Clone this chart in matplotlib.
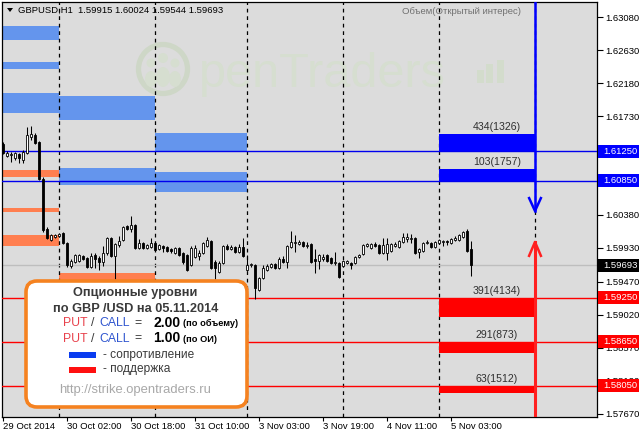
import matplotlib
matplotlib.use('Agg')
import matplotlib.pyplot as plt
from matplotlib.patches import Rectangle, FancyBboxPatch, Circle, Ellipse, Polygon
import matplotlib.transforms as mtransforms

plt.rcParams['font.family'] = ['Liberation Sans', 'DejaVu Sans']

# ---------------- data ----------------
bar_index = list(range(-14, 104))   # hourly bars, 0 = 30 Oct 00:00

opens = [
    1.6135, 1.6118, 1.6120, 1.6116, 1.6121, 1.6113, 1.6123, 1.6144, 1.6147, 1.6138,
    1.6087, 1.6019, 1.6004, 1.6008, 1.6009, 1.6013, 1.6000, 1.5968, 1.5974, 1.5975,
    1.5982, 1.5979, 1.5967, 1.5983, 1.5979, 1.5974, 1.5986, 1.6007, 1.5982, 1.5997,
    1.6004, 1.6023, 1.6019, 1.6024, 1.5993, 1.6000, 1.5993, 1.5994, 1.6000, 1.5992,
    1.5996, 1.5994, 1.5992, 1.5986, 1.5993, 1.5986, 1.5983, 1.5970, 1.5981, 1.5982,
    1.5986, 1.5996, 1.6003, 1.5974, 1.5960, 1.5973, 1.5996, 1.5992, 1.5994, 1.5988,
    1.5994, 1.5963, 1.5970, 1.5970, 1.5936, 1.5952, 1.5963, 1.5967, 1.5971, 1.5966,
    1.5978, 1.5974, 1.5994, 1.6000, 1.5998, 1.6001, 1.5996, 1.5998, 1.5978, 1.5975,
    1.5978, 1.5983, 1.5979, 1.5973, 1.5973, 1.5968, 1.5973, 1.5973, 1.5973, 1.5981,
    1.5985, 1.5996, 1.5993, 1.5998, 1.5997, 1.5986, 1.5986, 1.5989, 1.5996, 1.5994,
    1.6001, 1.6005, 1.6005, 1.6007, 1.5988, 1.5989, 1.6000, 1.6000, 1.5994, 1.6000,
    1.6001, 1.6003, 1.6000, 1.6004, 1.6004, 1.6008, 1.6016, 1.59915,
]
closes = [
    1.6123, 1.6123, 1.6121, 1.6123, 1.6116, 1.6124, 1.6147, 1.6148, 1.6136, 1.6087,
    1.6018, 1.6007, 1.6011, 1.6011, 1.6012, 1.6000, 1.5970, 1.5975, 1.5983, 1.5983,
    1.5978, 1.5967, 1.5982, 1.5978, 1.5974, 1.5986, 1.6007, 1.5982, 1.5998, 1.6003,
    1.6022, 1.6019, 1.6024, 1.5993, 1.6000, 1.5993, 1.5997, 1.6000, 1.5990, 1.5997,
    1.5993, 1.5989, 1.5989, 1.5993, 1.5983, 1.5974, 1.5963, 1.5993, 1.5993, 1.5986,
    1.6000, 1.6004, 1.5966, 1.5966, 1.5973, 1.5996, 1.5992, 1.5994, 1.5988, 1.5994,
    1.5982, 1.5970, 1.5971, 1.5939, 1.5952, 1.5966, 1.5968, 1.5971, 1.5966, 1.5978,
    1.5974, 1.5996, 1.6001, 1.6001, 1.6001, 1.5996, 1.5997, 1.5974, 1.5975, 1.5983,
    1.5981, 1.5975, 1.5973, 1.5974, 1.5953, 1.5975, 1.5975, 1.5970, 1.5981, 1.5983,
    1.5997, 1.5998, 1.5998, 1.5996, 1.5986, 1.5997, 1.5998, 1.5998, 1.5998, 1.6003,
    1.6008, 1.6008, 1.6007, 1.5986, 1.5992, 1.6000, 1.6001, 1.5994, 1.6001, 1.6004,
    1.6003, 1.6001, 1.6005, 1.6007, 1.6011, 1.6015, 1.5989, 1.59693,
]
highs = [
    1.6138, 1.6125, 1.6124, 1.6124, 1.6123, 1.6127, 1.6158, 1.6159, 1.6150, 1.6139,
    1.6090, 1.6022, 1.6012, 1.6012, 1.6013, 1.6015, 1.6001, 1.5978, 1.5985, 1.5985,
    1.5983, 1.5981, 1.5986, 1.5986, 1.5982, 1.5996, 1.6008, 1.6008, 1.6000, 1.6009,
    1.6023, 1.6024, 1.6037, 1.6026, 1.6005, 1.6001, 1.5998, 1.6007, 1.6001, 1.5998,
    1.5997, 1.5996, 1.5993, 1.5994, 1.5994, 1.5988, 1.5985, 1.5996, 1.5997, 1.5990,
    1.6001, 1.6008, 1.6004, 1.5977, 1.5975, 1.5997, 1.5998, 1.5997, 1.5996, 1.5998,
    1.6007, 1.5983, 1.5973, 1.5971, 1.5953, 1.5970, 1.5971, 1.5973, 1.5973, 1.5981,
    1.5982, 1.5997, 1.6016, 1.6011, 1.6004, 1.6003, 1.6001, 1.6000, 1.5992, 1.5985,
    1.5985, 1.5985, 1.5981, 1.5988, 1.5974, 1.5977, 1.5977, 1.5974, 1.5982, 1.5985,
    1.5998, 1.6000, 1.6000, 1.6001, 1.5998, 1.6007, 1.6007, 1.6000, 1.6001, 1.6004,
    1.6013, 1.6013, 1.6012, 1.6008, 1.5993, 1.6001, 1.6004, 1.6001, 1.6003, 1.6005,
    1.6004, 1.6004, 1.6007, 1.6009, 1.6012, 1.6016, 1.6019, 1.60024,
]
lows = [
    1.6121, 1.6117, 1.6110, 1.6113, 1.6109, 1.6109, 1.6121, 1.6140, 1.6135, 1.6086,
    1.6015, 1.6005, 1.6003, 1.6007, 1.6008, 1.5998, 1.5967, 1.5966, 1.5973, 1.5974,
    1.5977, 1.5966, 1.5966, 1.5966, 1.5963, 1.5968, 1.5983, 1.5981, 1.5951, 1.5994,
    1.6003, 1.6018, 1.6015, 1.5992, 1.5992, 1.5992, 1.5992, 1.5993, 1.5989, 1.5990,
    1.5988, 1.5988, 1.5986, 1.5985, 1.5982, 1.5971, 1.5962, 1.5968, 1.5979, 1.5977,
    1.5985, 1.5994, 1.5964, 1.5951, 1.5959, 1.5971, 1.5990, 1.5990, 1.5986, 1.5986,
    1.5981, 1.5962, 1.5967, 1.5924, 1.5934, 1.5951, 1.5962, 1.5966, 1.5964, 1.5964,
    1.5973, 1.5966, 1.5993, 1.5988, 1.5997, 1.5994, 1.5993, 1.5973, 1.5959, 1.5964,
    1.5975, 1.5974, 1.5971, 1.5970, 1.5952, 1.5967, 1.5971, 1.5964, 1.5971, 1.5979,
    1.5983, 1.5994, 1.5992, 1.5994, 1.5985, 1.5985, 1.5977, 1.5988, 1.5994, 1.5993,
    1.6000, 1.6001, 1.6000, 1.5985, 1.5979, 1.5988, 1.5998, 1.5993, 1.5993, 1.5998,
    1.5996, 1.5997, 1.5998, 1.6003, 1.6003, 1.6007, 1.5988, 1.59544,
]

day_starts = [0, 24, 47, 71, 95, 119]          # period separators (bar index)
tick_bars = [-14, 2, 18, 34, 50, 66, 82, 98]
tick_labels = ['29 Oct 2014', '30 Oct 02:00', '30 Oct 18:00', '31 Oct 10:00',
               '3 Nov 03:00', '3 Nov 19:00', '4 Nov 11:00', '5 Nov 03:00']

y_ticks = [1.63080, 1.62630, 1.62180, 1.61730, 1.60380,
           1.59930, 1.59470, 1.59020, 1.58570, 1.58120, 1.57670]

# historical option zones: (start bar, end bar, low, high)
old_resist_zones = [(-14.25, 0, 1.6277, 1.6296), (-14.25, 0, 1.6237, 1.6247),
                    (-14.25, 0, 1.6177, 1.6204), (0, 24, 1.6168, 1.6200),
                    (0, 24, 1.6079, 1.6102), (24, 47, 1.6124, 1.6150),
                    (24, 47, 1.6069, 1.6097)]
old_support_zones = [(-14.25, 0, 1.6090, 1.6099), (-14.25, 0, 1.6042, 1.6048),
                     (-14.25, 0, 1.5996, 1.6011), (0, 24, 1.5945, 1.5959)]

# current day levels
resist_levels = [1.6125, 1.6085]
resist_tops = [1.6149, 1.6101]
resist_labels = ['434(1326)', '103(1757)']
support_levels = [1.5925, 1.5865, 1.5805]
support_bottoms = [1.5899, 1.5850, 1.5795]
support_labels = ['391(4134)', '291(873)', '63(1512)']
zone_start, zone_end = 95, 119
current_price = 1.59693
arrow_down_tip, arrow_up_tip = 1.60435, 1.60012

# ---------------- figure ----------------
W, H = 639, 432
AX_L, AX_R, AX_T, AX_B = 2, 597, 2, 417
fig = plt.figure(figsize=(W / 100, H / 100), dpi=100)
fig.patch.set_facecolor('white')

# background layer (plot area colour + watermark)
bg = fig.add_axes([0, 0, 1, 1], zorder=0)
bg.set_xlim(0, W); bg.set_ylim(H, 0); bg.axis('off')
bg.add_patch(Rectangle((AX_L, AX_T), AX_R - AX_L, AX_B - AX_T,
                       facecolor='#DCDCDC', edgecolor='none'))
wm = '#d6ded0'
bg.add_patch(Circle((163, 69), 24.5, facecolor='none', edgecolor='#ced7c7', lw=3.8))
for cx, cy, r in [(151, 63, 4.5), (163, 58, 5.0), (175, 63, 4.5)]:
    bg.add_patch(Circle((cx, cy), r, facecolor=wm, edgecolor='none'))
for cx, cy, w_, h_ in [(151, 79, 12, 16), (163, 77, 14, 20), (175, 79, 12, 16)]:
    bg.add_patch(Ellipse((cx, cy), w_, h_, facecolor=wm, edgecolor='none'))
bg.text(199, 87, 'penTraders', fontsize=35, color=wm, ha='left', va='baseline')
for x0, y0 in [(477, 70), (486, 64), (497, 60)]:
    bg.add_patch(Rectangle((x0, y0), 7, 83 - y0, facecolor='#d3dccc', edgecolor='none'))

# main chart
ax = fig.add_axes([AX_L / W, 1 - AX_B / H, (AX_R - AX_L) / W, (AX_B - AX_T) / H], zorder=1)
ax.set_facecolor('none')
ax.set_xlim(-14.25, 134.5)
ax.set_ylim(1.57625, 1.63285)
px = (1.63285 - 1.57625) / (AX_B - AX_T)   # price per pixel

for x0, x1, lo, hi in old_resist_zones:
    ax.add_patch(Rectangle((x0, lo), x1 - x0, hi - lo, facecolor='#6495ED',
                           edgecolor='none', zorder=1))
for x0, x1, lo, hi in old_support_zones:
    ax.add_patch(Rectangle((x0, lo), x1 - x0, hi - lo, facecolor='#FF7F50',
                           edgecolor='none', zorder=1))

for d in day_starts:
    ax.axvline(d, color='black', lw=0.9, ls=(0, (3, 3)), zorder=2)

ax.axhline(current_price, color='#BEBEBE', lw=1, zorder=2)
for lv in resist_levels:
    ax.axhline(lv, color='#0000EE', lw=1, zorder=3)
for lv in support_levels:
    ax.axhline(lv, color='#FF0000', lw=1, zorder=3)

# current day zones
for lv, top, lab in zip(resist_levels, resist_tops, resist_labels):
    ax.add_patch(Rectangle((zone_start, lv), zone_end - zone_start, top - lv,
                           facecolor='#0000FF', edgecolor='none', zorder=3))
    ax.annotate(lab, xy=(109.5, top), xytext=(0, 1.5), textcoords='offset points',
                ha='center', va='bottom', fontsize=7.6, color='#303030', zorder=6)
for lv, bot, lab in zip(support_levels, support_bottoms, support_labels):
    ax.add_patch(Rectangle((zone_start, bot), zone_end - zone_start, lv - bot,
                           facecolor='#FF0000', edgecolor='none', zorder=3))
    ax.annotate(lab, xy=(109.5, lv), xytext=(0, 1.5), textcoords='offset points',
                ha='center', va='bottom', fontsize=7.6, color='#303030', zorder=6)

# candles
for i, o, h, l, c in zip(bar_index, opens, highs, lows, closes):
    ax.vlines(i, l, h, color='black', lw=0.75, zorder=4)
    bull = c >= o
    ax.bar(i, abs(c - o), bottom=min(o, c), width=0.7,
           color='white' if bull else 'black', edgecolor='black', lw=0.6, zorder=5)

# arrows
ax.plot([zone_end, zone_end], [1.63285, arrow_down_tip], color='#0000FF', lw=1.8, zorder=6)
ax.plot([zone_end - 1.6, zone_end, zone_end + 1.6],
        [arrow_down_tip + 14 * px, arrow_down_tip, arrow_down_tip + 14 * px],
        color='#0000FF', lw=1.8, zorder=6, solid_capstyle='butt')
ax.plot([zone_end, zone_end], [1.57625, arrow_up_tip], color='#FF2020', lw=2.2, zorder=6)
ax.plot([zone_end - 1.6, zone_end, zone_end + 1.6],
        [arrow_up_tip - 15 * px, arrow_up_tip, arrow_up_tip - 15 * px],
        color='#FF2020', lw=1.8, zorder=6, solid_capstyle='butt')

# axes styling
for s in ax.spines.values():
    s.set_color('black'); s.set_linewidth(0.9)
ax.yaxis.tick_right()
ax.set_yticks(y_ticks)
ax.set_yticklabels([f'{v:.5f}' for v in y_ticks])
ax.tick_params(axis='y', direction='out', length=4, width=0.8, pad=2,
               labelsize=6.8, right=True, left=False, labelright=True, labelleft=False)
ax.set_xticks(tick_bars)
ax.set_xticklabels(tick_labels, ha='left')
ax.tick_params(axis='x', direction='out', length=3, width=0.8, pad=0.5, labelsize=6.8)
for lbl in ax.get_xticklabels():
    lbl.set_horizontalalignment('left')

# highlighted price labels on the axis
trans = mtransforms.blended_transform_factory(ax.transAxes, ax.transData)
aw = AX_R - AX_L
hl = [(v, '#0000FF') for v in resist_levels] + [(current_price, '#000000')] + \
     [(v, '#FF0000') for v in support_levels]
for v, col in hl:
    ax.add_patch(Rectangle((1 + 1 / aw, v - 6.5 * px), 41 / aw, 13 * px, transform=trans,
                           facecolor=col, edgecolor='none', clip_on=False, zorder=8))
    ax.text(1 + 6 / aw, v, f'{v:.5f}', transform=trans, color='white', fontsize=6.8,
            ha='left', va='center', zorder=9, clip_on=False)

# overlay: header + info box
ov = fig.add_axes([0, 0, 1, 1], zorder=3)
ov.set_xlim(0, W); ov.set_ylim(H, 0); ov.axis('off'); ov.patch.set_alpha(0)
ov.add_patch(Polygon([(7, 8), (13, 8), (10, 12)], closed=True, facecolor='black'))
ov.text(18, 10.5, 'GBPUSD,H1  1.59915 1.60024 1.59544 1.59693', fontsize=6.8,
        ha='left', va='center', color='black')
ov.text(521, 11, 'Объем(Открытый интерес)', fontsize=6.8, ha='right', va='center',
        color='#707070')

ov.add_patch(FancyBboxPatch((26, 281), 221, 126,
                            boxstyle='round,pad=0,rounding_size=11',
                            facecolor='white', edgecolor='#F58220', lw=2.6))
dark = '#3a3a3a'
ov.text(135, 293, 'Опционные уровни', fontsize=9.2, fontweight='bold', color=dark,
        ha='center', va='center')
ov.text(135.5, 308.5, 'по GBP /USD на 05.11.2014', fontsize=9.2, fontweight='bold',
        color=dark, ha='center', va='center')
for yy, val, note in [(323, '2.00', '(по объему)'), (338.5, '1.00', '(по ОИ)')]:
    ov.text(63, yy, 'PUT', fontsize=8.8, color='#E8414B', ha='left', va='center')
    ov.text(91, yy, '/', fontsize=8.8, color=dark, ha='left', va='center')
    ov.text(99, yy, 'CALL', fontsize=8.8, color='#2F55CF', ha='left', va='center')
    ov.text(134, yy, '=', fontsize=8.8, color=dark, ha='left', va='center')
    ov.text(153, yy, val, fontsize=10, fontweight='bold', color='black', ha='left', va='center')
    ov.text(183, yy + 0.5, note, fontsize=6.7, fontweight='bold', color='black',
            ha='left', va='center')
ov.add_patch(Rectangle((69, 352), 27, 6, facecolor='#0A3CF0', edgecolor='none'))
ov.text(103, 355, '- сопротивление', fontsize=8.6, color=dark, ha='left', va='center')
ov.add_patch(Rectangle((69, 366.5), 27, 6, facecolor='#FF1010', edgecolor='none'))
ov.text(103, 369, '- поддержка', fontsize=8.6, color=dark, ha='left', va='center')
ov.text(135.5, 390, 'http://strike.opentraders.ru', fontsize=9.4, color='#A8A8A8',
        ha='center', va='center')

fig.savefig('out.png', dpi=100)
